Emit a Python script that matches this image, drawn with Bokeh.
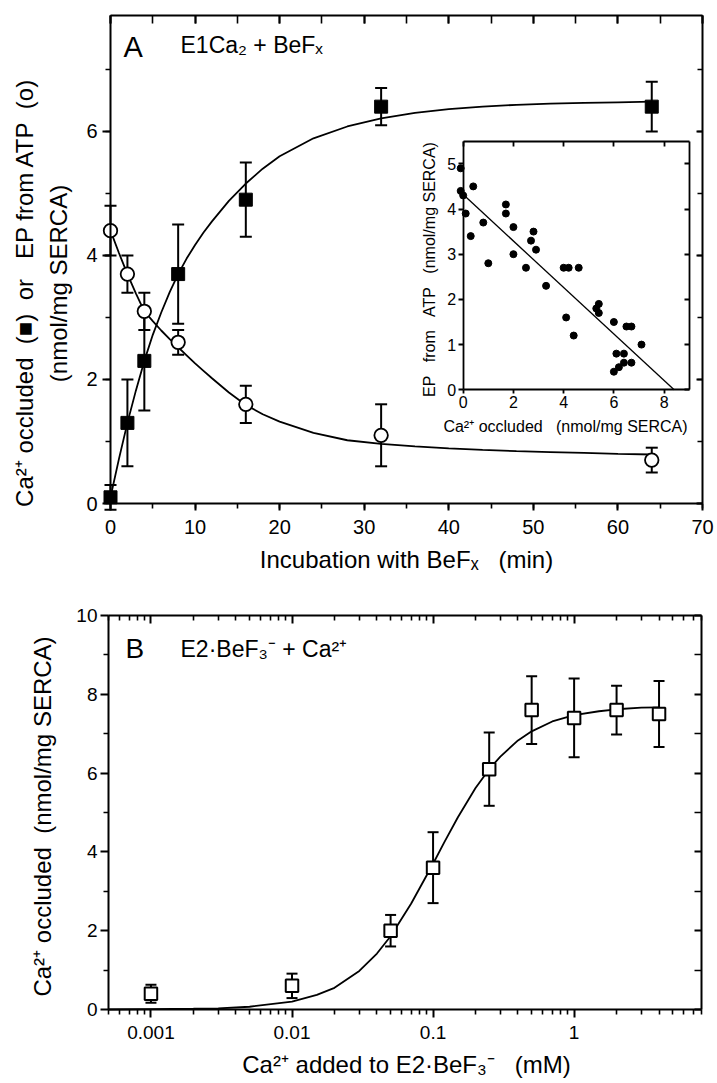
import math
from bokeh.plotting import figure
from bokeh.models import (Range1d, LinearAxis, LogAxis, SingleIntervalTicker, FixedTicker,
                          ColumnDataSource, Whisker, TeeHead, Label, CustomJSTickFormatter)
from bokeh.layouts import column
from bokeh.embed import file_html
from bokeh.resources import INLINE

FONT = "Liberation Sans"
NB = "\u00a0"

# ---------------- Panel A data ----------------
t_min = [0, 2, 4, 8, 16, 32, 64]
ca_occluded = [0.1, 1.3, 2.3, 3.7, 4.9, 6.4, 6.4]
ca_occluded_err = [0.2, 0.7, 0.8, 0.8, 0.6, 0.3, 0.4]
ep_atp = [4.4, 3.7, 3.1, 2.6, 1.6, 1.1, 0.7]
ep_atp_err = [0.4, 0.3, 0.3, 0.2, 0.3, 0.5, 0.2]

# fitted curves
fit_t = [0, 1, 2, 3, 4, 5, 6, 7, 8, 9, 10, 11, 12, 14, 16, 18, 20, 24, 28, 32,
         36, 40, 44, 48, 52, 56, 60, 64]
fit_occ = [0.10, 0.72, 1.30, 1.82, 2.30, 2.72, 3.08, 3.41, 3.70, 3.95, 4.17, 4.37,
           4.55, 4.88, 5.16, 5.40, 5.60, 5.89, 6.08, 6.21, 6.30, 6.36, 6.40, 6.43,
           6.45, 6.46, 6.47, 6.48]
fit_ep = [4.40, 4.04, 3.70, 3.39, 3.10, 2.94, 2.79, 2.65, 2.52, 2.39, 2.26, 2.14,
          2.02, 1.79, 1.59, 1.44, 1.32, 1.14, 1.02, 0.96, 0.92, 0.89, 0.865, 0.845,
          0.83, 0.815, 0.80, 0.79]

# inset: EP vs Ca occluded
inset_ca = [-0.1, -0.1, 0.0, 0.1, 0.4, 0.3, 0.8, 1.0, 1.7, 1.7, 2.0, 2.0, 2.5, 2.7,
            2.8, 2.9, 3.3, 4.0, 4.2, 4.6, 4.1, 4.4, 5.3, 5.4, 5.4, 6.0, 6.1, 6.4,
            6.0, 6.2, 6.4, 6.7, 6.5, 6.7, 7.1]
inset_ep = [4.9, 4.4, 4.3, 3.9, 4.5, 3.4, 3.7, 2.8, 4.1, 3.9, 3.6, 3.0, 2.7, 3.3,
            3.5, 3.1, 2.3, 2.7, 2.7, 2.7, 1.6, 1.2, 1.8, 1.9, 1.7, 1.5, 0.8, 0.8,
            0.4, 0.5, 0.6, 0.6, 1.4, 1.4, 1.0]
inset_fit_ca = [0.0, 8.4]
inset_fit_ep = [4.32, 0.0]

# ---------------- Panel B data ----------------
ca_added_mM = [0.001, 0.01, 0.05, 0.1, 0.25, 0.5, 1, 2, 4]
ca_occ_B = [0.4, 0.6, 2.0, 3.6, 6.1, 7.6, 7.4, 7.6, 7.5]
ca_occ_B_err = [0.23, 0.31, 0.4, 0.9, 0.93, 0.86, 1.0, 0.62, 0.84]
fit_mM = [0.0005, 0.001, 0.002, 0.003, 0.005, 0.01, 0.015, 0.02, 0.03, 0.04, 0.05,
          0.07, 0.1, 0.12, 0.15, 0.2, 0.25, 0.3, 0.4, 0.5, 0.7, 1, 1.5, 2, 3, 4]
fit_B = [0.0, 0.01, 0.02, 0.03, 0.07, 0.2, 0.37, 0.55, 0.98, 1.42, 1.86, 2.69, 3.70,
         4.24, 4.88, 5.62, 6.10, 6.42, 6.83, 7.06, 7.31, 7.47, 7.57, 7.62, 7.66, 7.67]

A_XMAX, A_YMAX = 70, 7.87
IN_XMAX, IN_YMAX = 9, 5.5
B_XMIN, B_XMAX, B_YMAX = 0.0005, 8, 10

# ---------------- layout (page pixels) ----------------
W = 717
A_TOP, A_BOT = 0, 600          # figure A occupies page rows 0..600
B_TOP, B_BOT = 600, 1083       # figure B occupies page rows 600..1083
A_BOX = dict(l=110, r=702, t=15, b=503)
IN_BOX = dict(l=462.7, r=688.7, t=140.7, b=389.3)
B_BOX = dict(l=108, r=701, t=615, b=1009)
LABEL_SHIFT = 9   # rendered baseline sits this far below the requested one


def lin_range(v0, v1, p0, p1, lo, hi):
    """data range covering pixels lo..hi when v0->p0 and v1->p1"""
    k = (v1 - v0) / (p1 - p0)
    return Range1d(v0 + (lo - p0) * k, v0 + (hi - p0) * k)


def style_axis(ax, size, maj_in, maj_out, min_in, min_out, labels=True, standoff=5,
               width=2):
    ax.axis_line_width = width
    ax.axis_line_color = "black"
    ax.major_tick_line_width = width
    ax.minor_tick_line_width = 1.6
    ax.major_tick_line_color = "black"
    ax.minor_tick_line_color = "black"
    ax.major_tick_in = maj_in
    ax.major_tick_out = maj_out
    ax.minor_tick_in = min_in
    ax.minor_tick_out = min_out
    ax.major_label_text_font = FONT
    ax.major_label_text_color = "black"
    ax.major_label_text_font_size = size
    ax.major_label_standoff = standoff
    if not labels:
        ax.major_label_text_alpha = 0
    ax.axis_label = None


def add_label(p, top, bot, px, py, text, size, align="left", angle=0.0):
    if angle == 0.0:
        py -= LABEL_SHIFT
    else:
        px -= LABEL_SHIFT
    p.add_layout(Label(x=px, y=(bot - top) - (py - top), x_units="screen", y_units="screen",
                       text=text, text_font=FONT, text_font_size=size, text_color="black",
                       text_align=align, text_baseline="alphabetic", angle=angle))


def bare_figure(h, x_range, y_range, **kw):
    p = figure(width=W, height=h, x_range=x_range, y_range=y_range,
               x_axis_location=None, y_axis_location=None,
               output_backend="svg", toolbar_location=None,
               min_border=0, min_border_left=0, min_border_right=0,
               min_border_top=0, min_border_bottom=0,
               outline_line_color=None, **kw)
    p.title.visible = False
    p.xgrid.visible = False
    p.ygrid.visible = False
    return p


# ================= Panel A =================
pA = bare_figure(A_BOT - A_TOP,
                 lin_range(0, A_XMAX, A_BOX["l"], A_BOX["r"], 0, W),
                 lin_range(0, A_YMAX, A_BOT - A_BOX["b"], A_BOT - A_BOX["t"], 0, A_BOT - A_TOP))
pA.extra_x_ranges = {"ix": lin_range(0, IN_XMAX, IN_BOX["l"], IN_BOX["r"], 0, W)}
pA.extra_y_ranges = {"iy": lin_range(0, IN_YMAX, A_BOT - IN_BOX["b"], A_BOT - IN_BOX["t"],
                                     0, A_BOT - A_TOP)}

xt_A = SingleIntervalTicker(interval=10, num_minor_ticks=2)
yt_A = SingleIntervalTicker(interval=2, num_minor_ticks=2)

ax = LinearAxis(ticker=xt_A, fixed_location=0, bounds=(0, A_XMAX))
style_axis(ax, "20px", 0, 7, 0, 5, standoff=9)
pA.add_layout(ax, "below")
ax = LinearAxis(ticker=yt_A, fixed_location=0, bounds=(0, A_YMAX))
style_axis(ax, "20px", 0, 8, 0, 5, standoff=5)
pA.add_layout(ax, "left")
ax = LinearAxis(ticker=xt_A, fixed_location=A_YMAX, bounds=(0, A_XMAX))
style_axis(ax, "10px", 8, 0, 8, 0, labels=False)
pA.add_layout(ax, "above")
ax = LinearAxis(ticker=yt_A, fixed_location=A_XMAX, bounds=(0, A_YMAX))
style_axis(ax, "10px", 6, 0, 5, 0, labels=False)
pA.add_layout(ax, "right")

# inset axes
ixt = SingleIntervalTicker(interval=2, num_minor_ticks=0)
iyt = SingleIntervalTicker(interval=1, num_minor_ticks=0)
ax = LinearAxis(x_range_name="ix", y_range_name="iy", fixed_location=0, bounds=(0, IN_XMAX),
                ticker=ixt)
style_axis(ax, "16px", 0, 4, 0, 0, standoff=2, width=1.8)
pA.add_layout(ax, "below")
ax = LinearAxis(x_range_name="ix", y_range_name="iy", fixed_location=IN_YMAX,
                bounds=(0, IN_XMAX), ticker=ixt)
style_axis(ax, "10px", 5, 0, 0, 0, labels=False, width=1.8)
pA.add_layout(ax, "above")
ax = LinearAxis(x_range_name="ix", y_range_name="iy", fixed_location=0, bounds=(0, IN_YMAX),
                ticker=iyt)
style_axis(ax, "16px", 0, 5, 0, 0, standoff=2, width=1.8)
pA.add_layout(ax, "left")
ax = LinearAxis(x_range_name="ix", y_range_name="iy", fixed_location=IN_XMAX,
                bounds=(0, IN_YMAX), ticker=iyt)
style_axis(ax, "10px", 5, 0, 0, 0, labels=False, width=1.8)
pA.add_layout(ax, "right")

srcA = ColumnDataSource(dict(
    t=t_min, occ=ca_occluded, ep=ep_atp,
    occ_up=[v + e for v, e in zip(ca_occluded, ca_occluded_err)],
    occ_lo=[v - e for v, e in zip(ca_occluded, ca_occluded_err)],
    ep_up=[v + e for v, e in zip(ep_atp, ep_atp_err)],
    ep_lo=[v - e for v, e in zip(ep_atp, ep_atp_err)],
))
for up, lo in (("occ_up", "occ_lo"), ("ep_up", "ep_lo")):
    pA.add_layout(Whisker(source=srcA, base="t", upper=up, lower=lo, level="underlay",
                          line_width=2, line_color="black",
                          upper_head=TeeHead(size=12, line_width=2, line_color="black"),
                          lower_head=TeeHead(size=12, line_width=2, line_color="black")))

pA.line(fit_t, fit_occ, line_width=1.8, line_color="black")
pA.line(fit_t, fit_ep, line_width=1.8, line_color="black")
pA.scatter("t", "occ", source=srcA, marker="square", size=13, fill_color="black",
           line_color="black", line_width=1)
pA.scatter("t", "ep", source=srcA, marker="circle", size=13.5, fill_color="white",
           line_color="black", line_width=1.8)

pA.line(inset_fit_ca, inset_fit_ep, x_range_name="ix", y_range_name="iy",
        line_width=1.3, line_color="black")
pA.scatter(inset_ca, inset_ep, x_range_name="ix", y_range_name="iy", marker="circle",
           size=7, fill_color="black", line_color="black")

Rot = math.pi / 2
add_label(pA, A_TOP, A_BOT, 123, 55, "A", "29px")
add_label(pA, A_TOP, A_BOT, 180, 53, "E1Ca\u2082 + BeF\u2093", "23px")
add_label(pA, A_TOP, A_BOT, 406, 568, f"Incubation with BeF\u2093{NB*3}(min)", "24px",
          align="center")
add_label(pA, A_TOP, A_BOT, 33, 292,
          f"Ca\u00b2\u207a occluded{NB*2}(\u25a0){NB*2}or{NB*3}EP from ATP{NB*2}(o)", "24px",
          align="center", angle=Rot)
add_label(pA, A_TOP, A_BOT, 67, 283, "(nmol/mg SERCA)", "24px", align="center", angle=Rot)
add_label(pA, A_TOP, A_BOT, 438, 269, f"EP{NB*3}from{NB*3}ATP{NB*3}(nmol/mg SERCA)", "16px",
          align="center", angle=Rot)
add_label(pA, A_TOP, A_BOT, 565, 435, f"Ca\u00b2\u207a occluded{NB*3}(nmol/mg SERCA)", "16px",
          align="center")

# ================= Panel B =================
lg0, lg1 = math.log10(B_XMIN), math.log10(B_XMAX)
kB = (lg1 - lg0) / (B_BOX["r"] - B_BOX["l"])
xr_B = Range1d(10 ** (lg0 - B_BOX["l"] * kB), 10 ** (lg1 + (W - B_BOX["r"]) * kB))
yr_B = lin_range(0, B_YMAX, B_BOT - B_BOX["b"], B_BOT - B_BOX["t"], 0, B_BOT - B_TOP)
pB = bare_figure(B_BOT - B_TOP, xr_B, yr_B, x_axis_type="log")

major_B = [0.001, 0.01, 0.1, 1]
minor_B = [m * 10.0 ** e for e in range(-4, 1) for m in range(2, 10)
           if B_XMIN <= m * 10.0 ** e <= B_XMAX]
fmt = CustomJSTickFormatter(code="return tick.toString();")
xt_B = FixedTicker(ticks=major_B, minor_ticks=minor_B)
yt_B = FixedTicker(ticks=[0, 2, 4, 6, 8, 10], minor_ticks=[1, 3, 5, 7, 9])

ax = LogAxis(ticker=xt_B, formatter=fmt, fixed_location=0, bounds=(B_XMIN, B_XMAX))
style_axis(ax, "19px", 0, 8, 0, 5, standoff=8)
pB.add_layout(ax, "below")
ax = LinearAxis(ticker=yt_B, fixed_location=B_XMIN, bounds=(0, B_YMAX))
style_axis(ax, "19px", 0, 8, 0, 5, standoff=3)
pB.add_layout(ax, "left")
ax = LogAxis(ticker=xt_B, formatter=fmt, fixed_location=B_YMAX, bounds=(B_XMIN, B_XMAX))
style_axis(ax, "10px", 8, 0, 5, 0, labels=False)
pB.add_layout(ax, "above")
ax = LinearAxis(ticker=yt_B, fixed_location=B_XMAX, bounds=(0, B_YMAX))
style_axis(ax, "10px", 7, 0, 7, 0, labels=False)
pB.add_layout(ax, "right")

srcB = ColumnDataSource(dict(
    x=ca_added_mM, y=ca_occ_B,
    up=[v + e for v, e in zip(ca_occ_B, ca_occ_B_err)],
    lo=[v - e for v, e in zip(ca_occ_B, ca_occ_B_err)],
))
pB.add_layout(Whisker(source=srcB, base="x", upper="up", lower="lo", level="underlay",
                      line_width=2, line_color="black",
                      upper_head=TeeHead(size=11, line_width=2, line_color="black"),
                      lower_head=TeeHead(size=11, line_width=2, line_color="black")))
pB.line(fit_mM, fit_B, line_width=1.8, line_color="black")
pB.scatter("x", "y", source=srcB, marker="square", size=12.5, fill_color="white",
           line_color="black", line_width=2)

add_label(pB, B_TOP, B_BOT, 125, 657, "B", "28px")
add_label(pB, B_TOP, B_BOT, 180, 657, "E2\u00b7BeF\u2083\u207b + Ca\u00b2\u207a", "23px")
add_label(pB, B_TOP, B_BOT, 406, 1073,
          f"Ca\u00b2\u207a added to E2\u00b7BeF\u2083\u207b{NB*3}(mM)", "24px", align="center")
add_label(pB, B_TOP, B_BOT, 51, 816, f"Ca\u00b2\u207a occluded{NB*2}(nmol/mg SERCA)", "24px",
          align="center", angle=Rot)

layout = column(pA, pB, spacing=0)
open("out.html", "w").write(file_html(layout, INLINE))
